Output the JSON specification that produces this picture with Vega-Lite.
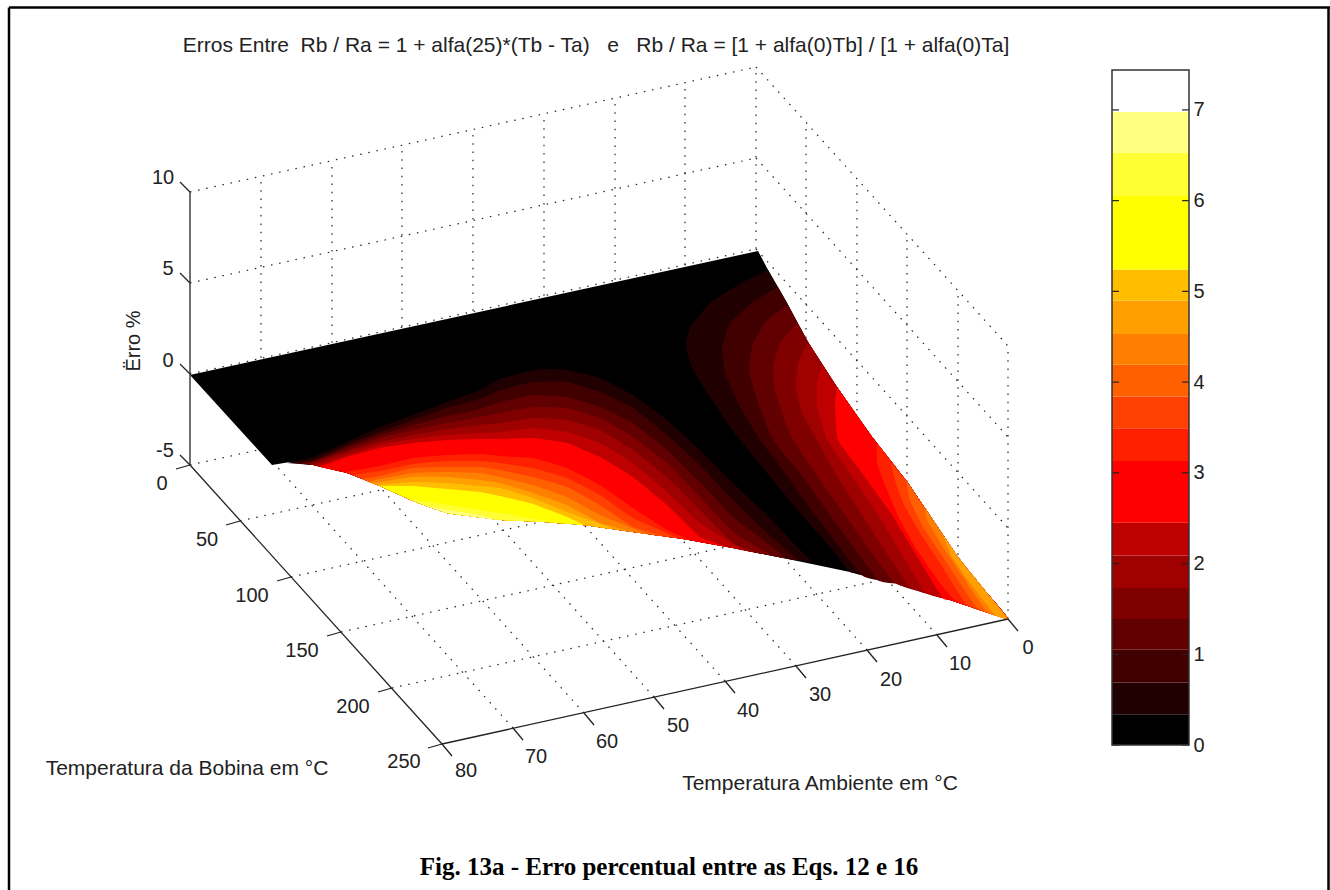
{"$schema":"https://vega.github.io/schema/vega-lite/v6.json","autosize":"none","padding":0,"width":1330,"height":890,"background":"white","config":{"view":{"stroke":null}},
"datasets":{
"colorbar":[{"b":0,"lo":0,"hi":0.34},{"b":1,"lo":0.34,"hi":0.69},{"b":2,"lo":0.69,"hi":1.05},{"b":3,"lo":1.05,"hi":1.39},{"b":4,"lo":1.39,"hi":1.73},{"b":5,"lo":1.73,"hi":2.09},{"b":6,"lo":2.09,"hi":2.45},{"b":7,"lo":2.45,"hi":3.13},{"b":8,"lo":3.13,"hi":3.49},{"b":9,"lo":3.49,"hi":3.84},{"b":10,"lo":3.84,"hi":4.19},{"b":11,"lo":4.19,"hi":4.53},{"b":12,"lo":4.53,"hi":4.9},{"b":13,"lo":4.9,"hi":5.24},{"b":14,"lo":5.24,"hi":6.05},{"b":15,"lo":6.05,"hi":6.53},{"b":16,"lo":6.53,"hi":6.98},{"b":17,"lo":6.98,"hi":7.44}],
"cbticks":[{"t":0},{"t":1},{"t":2},{"t":3},{"t":4},{"t":5},{"t":6},{"t":7}],
"grid":[
{"u":190,"v":192,"u2":756,"v2":67},{"u":190,"v":283,"u2":756,"v2":158},{"u":190,"v":374,"u2":756,"v2":249},{"u":190,"v":465,"u2":756,"v2":340},
{"u":756,"v":67,"u2":1008,"v2":346},{"u":756,"v":158,"u2":1008,"v2":437},{"u":756,"v":249,"u2":1008,"v2":528},{"u":756,"v":340,"u2":1008,"v2":619},
{"u":261,"v":449,"u2":261,"v2":176},{"u":332,"v":434,"u2":332,"v2":161},{"u":402,"v":418,"u2":402,"v2":145},{"u":473,"v":402,"u2":473,"v2":129},{"u":544,"v":387,"u2":544,"v2":114},{"u":615,"v":371,"u2":615,"v2":98},{"u":685,"v":356,"u2":685,"v2":83},{"u":756,"v":340,"u2":756,"v2":67},
{"u":806,"v":396,"u2":806,"v2":123},{"u":857,"v":452,"u2":857,"v2":179},{"u":907,"v":507,"u2":907,"v2":234},{"u":958,"v":563,"u2":958,"v2":290},{"u":1008,"v":619,"u2":1008,"v2":346},
{"u":240,"v":521,"u2":806,"v2":396},{"u":291,"v":577,"u2":857,"v2":452},{"u":341,"v":632,"u2":907,"v2":507},{"u":392,"v":688,"u2":958,"v2":563},
{"u":513,"v":728,"u2":261,"v2":449},{"u":584,"v":713,"u2":332,"v2":434},{"u":654,"v":697,"u2":402,"v2":418},{"u":725,"v":681,"u2":473,"v2":402},{"u":796,"v":666,"u2":544,"v2":387},{"u":867,"v":650,"u2":615,"v2":371},{"u":937,"v":635,"u2":685,"v2":356}],
"axes":[
{"u":190,"v":192,"u2":190,"v2":465},{"u":190,"v":465,"u2":442,"v2":744},{"u":442,"v":744,"u2":1008,"v2":619},
{"u":190,"v":192,"u2":180,"v2":182},{"u":190,"v":283,"u2":180,"v2":273},{"u":190,"v":374,"u2":180,"v2":364},{"u":190,"v":465,"u2":180,"v2":455},
{"u":190,"v":465,"u2":176,"v2":469},{"u":240,"v":521,"u2":226,"v2":525},{"u":291,"v":577,"u2":277,"v2":581},{"u":341,"v":632,"u2":327,"v2":636},{"u":392,"v":688,"u2":378,"v2":692},{"u":442,"v":744,"u2":428,"v2":748},
{"u":442,"v":744,"u2":452,"v2":756},{"u":513,"v":728,"u2":523,"v2":740},{"u":584,"v":713,"u2":594,"v2":725},{"u":654,"v":697,"u2":664,"v2":709},{"u":725,"v":681,"u2":735,"v2":693},{"u":796,"v":666,"u2":806,"v2":678},{"u":867,"v":650,"u2":877,"v2":662},{"u":937,"v":635,"u2":947,"v2":647},{"u":1008,"v":619,"u2":1018,"v2":631}],
"border":[{"u":9,"v":7.5,"u2":9,"v2":890},{"u":9,"v":7.5,"u2":1330,"v2":7.5},{"u":1328.5,"v":7.5,"u2":1328.5,"v2":890}],
"ticklabels":[
{"u":163,"v":178,"t":"10"},{"u":168,"v":269,"t":"5"},{"u":168,"v":361,"t":"0"},{"u":165,"v":451,"t":"-5"},
{"u":162,"v":484,"t":"0"},{"u":207,"v":540,"t":"50"},{"u":252,"v":596,"t":"100"},{"u":302,"v":651,"t":"150"},{"u":353,"v":707,"t":"200"},{"u":404,"v":762,"t":"250"},
{"u":466,"v":771,"t":"80"},{"u":536,"v":757,"t":"70"},{"u":607,"v":742,"t":"60"},{"u":678,"v":726,"t":"50"},{"u":748,"v":711,"t":"40"},{"u":820,"v":695,"t":"30"},{"u":891,"v":680,"t":"20"},{"u":960,"v":664,"t":"10"},{"u":1028,"v":648,"t":"0"}],
"labels":[
{"u":187,"v":769,"t":"Temperatura da Bobina em °C"},{"u":820,"v":784,"t":"Temperatura Ambiente em °C"},
{"u":596,"v":46,"t":"Erros Entre \u00a0Rb / Ra = 1 + alfa(25)*(Tb - Ta) \u00a0\u00a0e \u00a0\u00a0Rb / Ra = [1 + alfa(0)Tb] / [1 + alfa(0)Ta]"}],
"ylabel":[{"u":134,"v":341,"t":"Ërro %"}],
"caption":[{"u":669,"v":867,"t":"Fig. 13a - Erro percentual entre as Eqs. 12 e 16"}],
"surface":[
{"p":"base","b":0,"u":190,"v":375},{"p":"base","b":0,"u":758,"v":251},{"p":"base","b":0,"u":767,"v":268},{"p":"base","b":0,"u":787,"v":303},{"p":"base","b":0,"u":808,"v":342},{"p":"base","b":0,"u":837,"v":387},{"p":"base","b":0,"u":873,"v":438},{"p":"base","b":0,"u":908,"v":483},{"p":"base","b":0,"u":958,"v":557},{"p":"base","b":0,"u":987,"v":593},{"p":"base","b":0,"u":1008,"v":619},{"p":"base","b":0,"u":950,"v":600},{"p":"base","b":0,"u":900,"v":584},{"p":"base","b":0,"u":850,"v":572},{"p":"base","b":0,"u":783,"v":558},{"p":"base","b":0,"u":733,"v":548},{"p":"base","b":0,"u":683,"v":539},{"p":"base","b":0,"u":633,"v":532},{"p":"base","b":0,"u":583,"v":525},{"p":"base","b":0,"u":543,"v":522},{"p":"base","b":0,"u":500,"v":520},{"p":"base","b":0,"u":447,"v":513},{"p":"base","b":0,"u":413,"v":501},{"p":"base","b":0,"u":380,"v":486},{"p":"base","b":0,"u":347,"v":473},{"p":"base","b":0,"u":313,"v":465},{"p":"base","b":0,"u":290,"v":462},{"p":"base","b":0,"u":272,"v":465},

{"p":"L1","b":1,"u":287,"v":463},{"p":"L1","b":1,"u":313,"v":457},{"p":"L1","b":1,"u":347,"v":442},{"p":"L1","b":1,"u":380,"v":427},{"p":"L1","b":1,"u":413,"v":415},{"p":"L1","b":1,"u":447,"v":402},{"p":"L1","b":1,"u":480,"v":390},{"p":"L1","b":1,"u":500,"v":379},{"p":"L1","b":1,"u":533,"v":370},{"p":"L1","b":1,"u":550,"v":369},{"p":"L1","b":1,"u":567,"v":370},{"p":"L1","b":1,"u":600,"v":378},{"p":"L1","b":1,"u":633,"v":395},{"p":"L1","b":1,"u":667,"v":420},{"p":"L1","b":1,"u":700,"v":450},{"p":"L1","b":1,"u":733,"v":483},{"p":"L1","b":1,"u":767,"v":515},{"p":"L1","b":1,"u":800,"v":550},{"p":"L1","b":1,"u":812,"v":562},{"p":"L1","b":1,"u":783,"v":558},{"p":"L1","b":1,"u":733,"v":548},{"p":"L1","b":1,"u":683,"v":539},{"p":"L1","b":1,"u":633,"v":532},{"p":"L1","b":1,"u":583,"v":525},{"p":"L1","b":1,"u":543,"v":522},{"p":"L1","b":1,"u":500,"v":520},{"p":"L1","b":1,"u":447,"v":513},{"p":"L1","b":1,"u":413,"v":501},{"p":"L1","b":1,"u":380,"v":486},{"p":"L1","b":1,"u":347,"v":473},{"p":"L1","b":1,"u":313,"v":465},

{"p":"L2","b":2,"u":293,"v":463},{"p":"L2","b":2,"u":313,"v":460},{"p":"L2","b":2,"u":347,"v":445},{"p":"L2","b":2,"u":380,"v":432},{"p":"L2","b":2,"u":413,"v":420},{"p":"L2","b":2,"u":447,"v":408},{"p":"L2","b":2,"u":480,"v":399},{"p":"L2","b":2,"u":500,"v":390},{"p":"L2","b":2,"u":533,"v":382},{"p":"L2","b":2,"u":567,"v":382},{"p":"L2","b":2,"u":600,"v":392},{"p":"L2","b":2,"u":633,"v":408},{"p":"L2","b":2,"u":667,"v":435},{"p":"L2","b":2,"u":700,"v":465},{"p":"L2","b":2,"u":733,"v":500},{"p":"L2","b":2,"u":767,"v":533},{"p":"L2","b":2,"u":798,"v":560},{"p":"L2","b":2,"u":783,"v":558},{"p":"L2","b":2,"u":733,"v":548},{"p":"L2","b":2,"u":683,"v":539},{"p":"L2","b":2,"u":633,"v":532},{"p":"L2","b":2,"u":583,"v":525},{"p":"L2","b":2,"u":543,"v":522},{"p":"L2","b":2,"u":500,"v":520},{"p":"L2","b":2,"u":447,"v":513},{"p":"L2","b":2,"u":413,"v":501},{"p":"L2","b":2,"u":380,"v":486},{"p":"L2","b":2,"u":347,"v":473},{"p":"L2","b":2,"u":313,"v":465},

{"p":"L3","b":3,"u":300,"v":463},{"p":"L3","b":3,"u":313,"v":462},{"p":"L3","b":3,"u":347,"v":447},{"p":"L3","b":3,"u":380,"v":435},{"p":"L3","b":3,"u":413,"v":425},{"p":"L3","b":3,"u":447,"v":416},{"p":"L3","b":3,"u":480,"v":409},{"p":"L3","b":3,"u":500,"v":402},{"p":"L3","b":3,"u":533,"v":395},{"p":"L3","b":3,"u":567,"v":397},{"p":"L3","b":3,"u":600,"v":407},{"p":"L3","b":3,"u":633,"v":423},{"p":"L3","b":3,"u":667,"v":450},{"p":"L3","b":3,"u":700,"v":482},{"p":"L3","b":3,"u":733,"v":517},{"p":"L3","b":3,"u":767,"v":543},{"p":"L3","b":3,"u":785,"v":558},{"p":"L3","b":3,"u":733,"v":548},{"p":"L3","b":3,"u":683,"v":539},{"p":"L3","b":3,"u":633,"v":532},{"p":"L3","b":3,"u":583,"v":525},{"p":"L3","b":3,"u":543,"v":522},{"p":"L3","b":3,"u":500,"v":520},{"p":"L3","b":3,"u":447,"v":513},{"p":"L3","b":3,"u":413,"v":501},{"p":"L3","b":3,"u":380,"v":486},{"p":"L3","b":3,"u":347,"v":473},{"p":"L3","b":3,"u":313,"v":465},

{"p":"L4","b":4,"u":306,"v":464},{"p":"L4","b":4,"u":347,"v":450},{"p":"L4","b":4,"u":380,"v":438},{"p":"L4","b":4,"u":413,"v":430},{"p":"L4","b":4,"u":447,"v":423},{"p":"L4","b":4,"u":480,"v":417},{"p":"L4","b":4,"u":500,"v":413},{"p":"L4","b":4,"u":533,"v":407},{"p":"L4","b":4,"u":567,"v":408},{"p":"L4","b":4,"u":600,"v":418},{"p":"L4","b":4,"u":633,"v":437},{"p":"L4","b":4,"u":667,"v":463},{"p":"L4","b":4,"u":700,"v":497},{"p":"L4","b":4,"u":733,"v":532},{"p":"L4","b":4,"u":770,"v":555},{"p":"L4","b":4,"u":733,"v":548},{"p":"L4","b":4,"u":683,"v":539},{"p":"L4","b":4,"u":633,"v":532},{"p":"L4","b":4,"u":583,"v":525},{"p":"L4","b":4,"u":543,"v":522},{"p":"L4","b":4,"u":500,"v":520},{"p":"L4","b":4,"u":447,"v":513},{"p":"L4","b":4,"u":413,"v":501},{"p":"L4","b":4,"u":380,"v":486},{"p":"L4","b":4,"u":347,"v":473},{"p":"L4","b":4,"u":313,"v":465},

{"p":"L5","b":5,"u":311,"v":465},{"p":"L5","b":5,"u":347,"v":452},{"p":"L5","b":5,"u":380,"v":442},{"p":"L5","b":5,"u":413,"v":435},{"p":"L5","b":5,"u":447,"v":429},{"p":"L5","b":5,"u":480,"v":425},{"p":"L5","b":5,"u":500,"v":423},{"p":"L5","b":5,"u":533,"v":418},{"p":"L5","b":5,"u":567,"v":420},{"p":"L5","b":5,"u":600,"v":430},{"p":"L5","b":5,"u":633,"v":450},{"p":"L5","b":5,"u":667,"v":477},{"p":"L5","b":5,"u":700,"v":510},{"p":"L5","b":5,"u":733,"v":543},{"p":"L5","b":5,"u":757,"v":553},{"p":"L5","b":5,"u":733,"v":548},{"p":"L5","b":5,"u":683,"v":539},{"p":"L5","b":5,"u":633,"v":532},{"p":"L5","b":5,"u":583,"v":525},{"p":"L5","b":5,"u":543,"v":522},{"p":"L5","b":5,"u":500,"v":520},{"p":"L5","b":5,"u":447,"v":513},{"p":"L5","b":5,"u":413,"v":501},{"p":"L5","b":5,"u":380,"v":486},{"p":"L5","b":5,"u":347,"v":473},{"p":"L5","b":5,"u":313,"v":465},

{"p":"L6","b":6,"u":316,"v":466},{"p":"L6","b":6,"u":347,"v":455},{"p":"L6","b":6,"u":380,"v":445},{"p":"L6","b":6,"u":413,"v":439},{"p":"L6","b":6,"u":447,"v":435},{"p":"L6","b":6,"u":480,"v":433},{"p":"L6","b":6,"u":500,"v":432},{"p":"L6","b":6,"u":533,"v":428},{"p":"L6","b":6,"u":567,"v":432},{"p":"L6","b":6,"u":600,"v":443},{"p":"L6","b":6,"u":633,"v":463},{"p":"L6","b":6,"u":667,"v":492},{"p":"L6","b":6,"u":700,"v":523},{"p":"L6","b":6,"u":743,"v":550},{"p":"L6","b":6,"u":733,"v":548},{"p":"L6","b":6,"u":683,"v":539},{"p":"L6","b":6,"u":633,"v":532},{"p":"L6","b":6,"u":583,"v":525},{"p":"L6","b":6,"u":543,"v":522},{"p":"L6","b":6,"u":500,"v":520},{"p":"L6","b":6,"u":447,"v":513},{"p":"L6","b":6,"u":413,"v":501},{"p":"L6","b":6,"u":380,"v":486},{"p":"L6","b":6,"u":347,"v":473},

{"p":"L7","b":7,"u":320,"v":467},{"p":"L7","b":7,"u":347,"v":457},{"p":"L7","b":7,"u":380,"v":448},{"p":"L7","b":7,"u":413,"v":443},{"p":"L7","b":7,"u":447,"v":440},{"p":"L7","b":7,"u":480,"v":439},{"p":"L7","b":7,"u":500,"v":439},{"p":"L7","b":7,"u":533,"v":438},{"p":"L7","b":7,"u":567,"v":443},{"p":"L7","b":7,"u":600,"v":457},{"p":"L7","b":7,"u":633,"v":477},{"p":"L7","b":7,"u":667,"v":505},{"p":"L7","b":7,"u":700,"v":537},{"p":"L7","b":7,"u":727,"v":547},{"p":"L7","b":7,"u":683,"v":539},{"p":"L7","b":7,"u":633,"v":532},{"p":"L7","b":7,"u":583,"v":525},{"p":"L7","b":7,"u":543,"v":522},{"p":"L7","b":7,"u":500,"v":520},{"p":"L7","b":7,"u":447,"v":513},{"p":"L7","b":7,"u":413,"v":501},{"p":"L7","b":7,"u":380,"v":486},{"p":"L7","b":7,"u":347,"v":473},

{"p":"L8","b":8,"u":345,"v":472},{"p":"L8","b":8,"u":380,"v":466},{"p":"L8","b":8,"u":413,"v":458},{"p":"L8","b":8,"u":447,"v":455},{"p":"L8","b":8,"u":480,"v":454},{"p":"L8","b":8,"u":500,"v":456},{"p":"L8","b":8,"u":533,"v":458},{"p":"L8","b":8,"u":567,"v":468},{"p":"L8","b":8,"u":600,"v":485},{"p":"L8","b":8,"u":633,"v":508},{"p":"L8","b":8,"u":667,"v":530},{"p":"L8","b":8,"u":690,"v":540},{"p":"L8","b":8,"u":683,"v":539},{"p":"L8","b":8,"u":633,"v":532},{"p":"L8","b":8,"u":583,"v":525},{"p":"L8","b":8,"u":543,"v":522},{"p":"L8","b":8,"u":500,"v":520},{"p":"L8","b":8,"u":447,"v":513},{"p":"L8","b":8,"u":413,"v":501},{"p":"L8","b":8,"u":380,"v":486},

{"p":"L9","b":9,"u":353,"v":475},{"p":"L9","b":9,"u":380,"v":471},{"p":"L9","b":9,"u":413,"v":464},{"p":"L9","b":9,"u":447,"v":461},{"p":"L9","b":9,"u":480,"v":461},{"p":"L9","b":9,"u":500,"v":463},{"p":"L9","b":9,"u":533,"v":468},{"p":"L9","b":9,"u":567,"v":478},{"p":"L9","b":9,"u":600,"v":495},{"p":"L9","b":9,"u":633,"v":518},{"p":"L9","b":9,"u":677,"v":538},{"p":"L9","b":9,"u":633,"v":532},{"p":"L9","b":9,"u":583,"v":525},{"p":"L9","b":9,"u":543,"v":522},{"p":"L9","b":9,"u":500,"v":520},{"p":"L9","b":9,"u":447,"v":513},{"p":"L9","b":9,"u":413,"v":501},{"p":"L9","b":9,"u":380,"v":486},

{"p":"L10","b":10,"u":362,"v":479},{"p":"L10","b":10,"u":380,"v":476},{"p":"L10","b":10,"u":413,"v":468},{"p":"L10","b":10,"u":447,"v":467},{"p":"L10","b":10,"u":480,"v":467},{"p":"L10","b":10,"u":500,"v":470},{"p":"L10","b":10,"u":533,"v":477},{"p":"L10","b":10,"u":567,"v":487},{"p":"L10","b":10,"u":600,"v":505},{"p":"L10","b":10,"u":633,"v":527},{"p":"L10","b":10,"u":663,"v":536},{"p":"L10","b":10,"u":633,"v":532},{"p":"L10","b":10,"u":583,"v":525},{"p":"L10","b":10,"u":543,"v":522},{"p":"L10","b":10,"u":500,"v":520},{"p":"L10","b":10,"u":447,"v":513},{"p":"L10","b":10,"u":413,"v":501},{"p":"L10","b":10,"u":380,"v":486},

{"p":"L11","b":11,"u":368,"v":482},{"p":"L11","b":11,"u":380,"v":479},{"p":"L11","b":11,"u":413,"v":473},{"p":"L11","b":11,"u":447,"v":472},{"p":"L11","b":11,"u":480,"v":473},{"p":"L11","b":11,"u":500,"v":477},{"p":"L11","b":11,"u":533,"v":485},{"p":"L11","b":11,"u":567,"v":497},{"p":"L11","b":11,"u":600,"v":515},{"p":"L11","b":11,"u":647,"v":534},{"p":"L11","b":11,"u":633,"v":532},{"p":"L11","b":11,"u":583,"v":525},{"p":"L11","b":11,"u":543,"v":522},{"p":"L11","b":11,"u":500,"v":520},{"p":"L11","b":11,"u":447,"v":513},{"p":"L11","b":11,"u":413,"v":501},{"p":"L11","b":11,"u":380,"v":486},

{"p":"L12","b":12,"u":373,"v":483},{"p":"L12","b":12,"u":413,"v":477},{"p":"L12","b":12,"u":447,"v":477},{"p":"L12","b":12,"u":480,"v":480},{"p":"L12","b":12,"u":500,"v":483},{"p":"L12","b":12,"u":533,"v":493},{"p":"L12","b":12,"u":567,"v":505},{"p":"L12","b":12,"u":600,"v":523},{"p":"L12","b":12,"u":633,"v":532},{"p":"L12","b":12,"u":583,"v":525},{"p":"L12","b":12,"u":543,"v":522},{"p":"L12","b":12,"u":500,"v":520},{"p":"L12","b":12,"u":447,"v":513},{"p":"L12","b":12,"u":413,"v":501},{"p":"L12","b":12,"u":380,"v":486},

{"p":"L13","b":13,"u":377,"v":485},{"p":"L13","b":13,"u":413,"v":482},{"p":"L13","b":13,"u":447,"v":483},{"p":"L13","b":13,"u":480,"v":486},{"p":"L13","b":13,"u":500,"v":488},{"p":"L13","b":13,"u":533,"v":498},{"p":"L13","b":13,"u":567,"v":512},{"p":"L13","b":13,"u":613,"v":529},{"p":"L13","b":13,"u":583,"v":525},{"p":"L13","b":13,"u":543,"v":522},{"p":"L13","b":13,"u":500,"v":520},{"p":"L13","b":13,"u":447,"v":513},{"p":"L13","b":13,"u":413,"v":501},{"p":"L13","b":13,"u":380,"v":486},

{"p":"L14","b":14,"u":380,"v":486},{"p":"L14","b":14,"u":413,"v":486},{"p":"L14","b":14,"u":447,"v":489},{"p":"L14","b":14,"u":480,"v":492},{"p":"L14","b":14,"u":500,"v":496},{"p":"L14","b":14,"u":533,"v":504},{"p":"L14","b":14,"u":567,"v":517},{"p":"L14","b":14,"u":583,"v":525},{"p":"L14","b":14,"u":543,"v":522},{"p":"L14","b":14,"u":500,"v":520},{"p":"L14","b":14,"u":447,"v":513},{"p":"L14","b":14,"u":413,"v":501},

{"p":"L15","b":15,"u":410,"v":499},{"p":"L15","b":15,"u":447,"v":505},{"p":"L15","b":15,"u":480,"v":510},{"p":"L15","b":15,"u":513,"v":515},{"p":"L15","b":15,"u":547,"v":522},{"p":"L15","b":15,"u":500,"v":520},{"p":"L15","b":15,"u":447,"v":513},{"p":"L15","b":15,"u":413,"v":501},

{"p":"L16","b":16,"u":423,"v":505},{"p":"L16","b":16,"u":447,"v":510},{"p":"L16","b":16,"u":480,"v":515},{"p":"L16","b":16,"u":497,"v":520},{"p":"L16","b":16,"u":447,"v":513},

{"p":"M1","b":1,"u":768,"v":270},{"p":"M1","b":1,"u":743,"v":282},{"p":"M1","b":1,"u":710,"v":303},{"p":"M1","b":1,"u":690,"v":327},{"p":"M1","b":1,"u":686,"v":347},{"p":"M1","b":1,"u":693,"v":370},{"p":"M1","b":1,"u":710,"v":397},{"p":"M1","b":1,"u":730,"v":427},{"p":"M1","b":1,"u":740,"v":440},{"p":"M1","b":1,"u":767,"v":473},{"p":"M1","b":1,"u":800,"v":513},{"p":"M1","b":1,"u":833,"v":550},{"p":"M1","b":1,"u":850,"v":572},{"p":"M1","b":1,"u":900,"v":584},{"p":"M1","b":1,"u":950,"v":600},{"p":"M1","b":1,"u":1008,"v":619},{"p":"M1","b":1,"u":987,"v":593},{"p":"M1","b":1,"u":958,"v":557},{"p":"M1","b":1,"u":908,"v":483},{"p":"M1","b":1,"u":873,"v":438},{"p":"M1","b":1,"u":837,"v":387},{"p":"M1","b":1,"u":808,"v":342},{"p":"M1","b":1,"u":787,"v":303},

{"p":"M2","b":2,"u":778,"v":287},{"p":"M2","b":2,"u":753,"v":302},{"p":"M2","b":2,"u":730,"v":323},{"p":"M2","b":2,"u":722,"v":347},{"p":"M2","b":2,"u":725,"v":373},{"p":"M2","b":2,"u":740,"v":407},{"p":"M2","b":2,"u":760,"v":440},{"p":"M2","b":2,"u":785,"v":473},{"p":"M2","b":2,"u":815,"v":515},{"p":"M2","b":2,"u":863,"v":576},{"p":"M2","b":2,"u":900,"v":584},{"p":"M2","b":2,"u":950,"v":600},{"p":"M2","b":2,"u":1008,"v":619},{"p":"M2","b":2,"u":987,"v":593},{"p":"M2","b":2,"u":958,"v":557},{"p":"M2","b":2,"u":908,"v":483},{"p":"M2","b":2,"u":873,"v":438},{"p":"M2","b":2,"u":837,"v":387},{"p":"M2","b":2,"u":808,"v":342},{"p":"M2","b":2,"u":787,"v":303},

{"p":"M3","b":3,"u":788,"v":305},{"p":"M3","b":3,"u":767,"v":320},{"p":"M3","b":3,"u":753,"v":343},{"p":"M3","b":3,"u":749,"v":370},{"p":"M3","b":3,"u":757,"v":400},{"p":"M3","b":3,"u":773,"v":440},{"p":"M3","b":3,"u":800,"v":473},{"p":"M3","b":3,"u":830,"v":515},{"p":"M3","b":3,"u":878,"v":580},{"p":"M3","b":3,"u":900,"v":584},{"p":"M3","b":3,"u":950,"v":600},{"p":"M3","b":3,"u":1008,"v":619},{"p":"M3","b":3,"u":987,"v":593},{"p":"M3","b":3,"u":958,"v":557},{"p":"M3","b":3,"u":908,"v":483},{"p":"M3","b":3,"u":873,"v":438},{"p":"M3","b":3,"u":837,"v":387},{"p":"M3","b":3,"u":808,"v":342},

{"p":"M4","b":4,"u":797,"v":323},{"p":"M4","b":4,"u":780,"v":343},{"p":"M4","b":4,"u":773,"v":367},{"p":"M4","b":4,"u":775,"v":390},{"p":"M4","b":4,"u":787,"v":427},{"p":"M4","b":4,"u":793,"v":440},{"p":"M4","b":4,"u":815,"v":473},{"p":"M4","b":4,"u":845,"v":515},{"p":"M4","b":4,"u":895,"v":583},{"p":"M4","b":4,"u":950,"v":600},{"p":"M4","b":4,"u":1008,"v":619},{"p":"M4","b":4,"u":987,"v":593},{"p":"M4","b":4,"u":958,"v":557},{"p":"M4","b":4,"u":908,"v":483},{"p":"M4","b":4,"u":873,"v":438},{"p":"M4","b":4,"u":837,"v":387},{"p":"M4","b":4,"u":808,"v":342},

{"p":"M5","b":5,"u":808,"v":342},{"p":"M5","b":5,"u":798,"v":363},{"p":"M5","b":5,"u":796,"v":387},{"p":"M5","b":5,"u":802,"v":413},{"p":"M5","b":5,"u":817,"v":440},{"p":"M5","b":5,"u":835,"v":473},{"p":"M5","b":5,"u":862,"v":515},{"p":"M5","b":5,"u":910,"v":587},{"p":"M5","b":5,"u":950,"v":600},{"p":"M5","b":5,"u":1008,"v":619},{"p":"M5","b":5,"u":987,"v":593},{"p":"M5","b":5,"u":958,"v":557},{"p":"M5","b":5,"u":908,"v":483},{"p":"M5","b":5,"u":873,"v":438},{"p":"M5","b":5,"u":837,"v":387},

{"p":"M6","b":6,"u":822,"v":365},{"p":"M6","b":6,"u":817,"v":383},{"p":"M6","b":6,"u":817,"v":407},{"p":"M6","b":6,"u":827,"v":440},{"p":"M6","b":6,"u":850,"v":473},{"p":"M6","b":6,"u":878,"v":515},{"p":"M6","b":6,"u":925,"v":592},{"p":"M6","b":6,"u":950,"v":600},{"p":"M6","b":6,"u":1008,"v":619},{"p":"M6","b":6,"u":987,"v":593},{"p":"M6","b":6,"u":958,"v":557},{"p":"M6","b":6,"u":908,"v":483},{"p":"M6","b":6,"u":873,"v":438},{"p":"M6","b":6,"u":837,"v":387},

{"p":"M7","b":7,"u":837,"v":387},{"p":"M7","b":7,"u":835,"v":407},{"p":"M7","b":7,"u":838,"v":440},{"p":"M7","b":7,"u":862,"v":473},{"p":"M7","b":7,"u":892,"v":515},{"p":"M7","b":7,"u":942,"v":597},{"p":"M7","b":7,"u":950,"v":600},{"p":"M7","b":7,"u":1008,"v":619},{"p":"M7","b":7,"u":987,"v":593},{"p":"M7","b":7,"u":958,"v":557},{"p":"M7","b":7,"u":908,"v":483},{"p":"M7","b":7,"u":873,"v":438},

{"p":"M8","b":8,"u":877,"v":443},{"p":"M8","b":8,"u":877,"v":463},{"p":"M8","b":8,"u":887,"v":490},{"p":"M8","b":8,"u":900,"v":520},{"p":"M8","b":8,"u":917,"v":550},{"p":"M8","b":8,"u":940,"v":583},{"p":"M8","b":8,"u":957,"v":602},{"p":"M8","b":8,"u":1008,"v":619},{"p":"M8","b":8,"u":987,"v":593},{"p":"M8","b":8,"u":958,"v":557},{"p":"M8","b":8,"u":908,"v":483},

{"p":"M9","b":9,"u":891,"v":463},{"p":"M9","b":9,"u":895,"v":480},{"p":"M9","b":9,"u":903,"v":503},{"p":"M9","b":9,"u":920,"v":533},{"p":"M9","b":9,"u":940,"v":563},{"p":"M9","b":9,"u":967,"v":605},{"p":"M9","b":9,"u":1008,"v":619},{"p":"M9","b":9,"u":987,"v":593},{"p":"M9","b":9,"u":958,"v":557},{"p":"M9","b":9,"u":908,"v":483},

{"p":"M10","b":10,"u":906,"v":480},{"p":"M10","b":10,"u":910,"v":500},{"p":"M10","b":10,"u":923,"v":527},{"p":"M10","b":10,"u":943,"v":557},{"p":"M10","b":10,"u":977,"v":608},{"p":"M10","b":10,"u":1008,"v":619},{"p":"M10","b":10,"u":987,"v":593},{"p":"M10","b":10,"u":958,"v":557},

{"p":"M11","b":11,"u":925,"v":508},{"p":"M11","b":11,"u":927,"v":520},{"p":"M11","b":11,"u":943,"v":547},{"p":"M11","b":11,"u":963,"v":577},{"p":"M11","b":11,"u":987,"v":612},{"p":"M11","b":11,"u":1008,"v":619},{"p":"M11","b":11,"u":987,"v":593},{"p":"M11","b":11,"u":958,"v":557},

{"p":"M12","b":12,"u":943,"v":535},{"p":"M12","b":12,"u":952,"v":557},{"p":"M12","b":12,"u":970,"v":583},{"p":"M12","b":12,"u":995,"v":615},{"p":"M12","b":12,"u":1008,"v":619},{"p":"M12","b":12,"u":987,"v":593},{"p":"M12","b":12,"u":958,"v":557}
]},
"layer":[
{"data":{"name":"border"},"mark":{"type":"rule","color":"#000","strokeWidth":2.5},"encoding":{"x":{"field":"u","type":"quantitative","scale":{"domain":[0,1330]},"axis":null},"y":{"field":"v","type":"quantitative","scale":{"domain":[890,0]},"axis":null},"x2":{"field":"u2"},"y2":{"field":"v2"}}},
{"data":{"name":"grid"},"mark":{"type":"rule","color":"#222","strokeWidth":1.2,"strokeDash":[1.5,6.8]},"encoding":{"x":{"field":"u","type":"quantitative","scale":{"domain":[0,1330]},"axis":null},"y":{"field":"v","type":"quantitative","scale":{"domain":[890,0]},"axis":null},"x2":{"field":"u2"},"y2":{"field":"v2"}}},
{"data":{"name":"surface"},"transform":[{"filter":"datum.p === 'base'"},{"window":[{"op":"row_number","as":"i"}]}],"mark":{"type":"line","filled":true,"interpolate":"linear"},"encoding":{"x":{"field":"u","type":"quantitative","scale":{"domain":[0,1330]},"axis":null},"y":{"field":"v","type":"quantitative","scale":{"domain":[890,0]},"axis":null},"order":{"field":"i","type":"quantitative"},"color":{"value":"#000000"}}},
{"data":{"name":"surface"},"transform":[{"filter":"datum.p !== 'base'"},{"window":[{"op":"row_number","as":"i"}]}],"mark":{"type":"line","filled":true,"interpolate":"cardinal","tension":0.7},"encoding":{"x":{"field":"u","type":"quantitative","scale":{"domain":[0,1330]},"axis":null},"y":{"field":"v","type":"quantitative","scale":{"domain":[890,0]},"axis":null},"detail":{"field":"p"},"order":{"field":"i","type":"quantitative"},"color":{"field":"b","type":"ordinal","legend":null,"scale":{"domain":[0,1,2,3,4,5,6,7,8,9,10,11,12,13,14,15,16,17],"range":["#000000","#200000","#400000","#600000","#800000","#9f0000","#bf0000","#ff0000","#ff2000","#ff4000","#ff6000","#ff8000","#ff9f00","#ffbf00","#ffff00","#ffff33","#ffff80","#ffffff"]}}}},
{"data":{"name":"axes"},"mark":{"type":"rule","color":"#222","strokeWidth":1.3},"encoding":{"x":{"field":"u","type":"quantitative","scale":{"domain":[0,1330]},"axis":null},"y":{"field":"v","type":"quantitative","scale":{"domain":[890,0]},"axis":null},"x2":{"field":"u2"},"y2":{"field":"v2"}}},
{"data":{"name":"ticklabels"},"mark":{"type":"text","font":"Liberation Sans","fontSize":20,"color":"#222","align":"center","baseline":"middle"},"encoding":{"x":{"field":"u","type":"quantitative","scale":{"domain":[0,1330]},"axis":null},"y":{"field":"v","type":"quantitative","scale":{"domain":[890,0]},"axis":null},"text":{"field":"t"}}},
{"data":{"name":"labels"},"mark":{"type":"text","font":"Liberation Sans","fontSize":21,"color":"#222","align":"center","baseline":"middle"},"encoding":{"x":{"field":"u","type":"quantitative","scale":{"domain":[0,1330]},"axis":null},"y":{"field":"v","type":"quantitative","scale":{"domain":[890,0]},"axis":null},"text":{"field":"t"}}},
{"data":{"name":"ylabel"},"mark":{"type":"text","font":"Liberation Sans","fontSize":20,"color":"#222","align":"center","baseline":"middle","angle":270},"encoding":{"x":{"field":"u","type":"quantitative","scale":{"domain":[0,1330]},"axis":null},"y":{"field":"v","type":"quantitative","scale":{"domain":[890,0]},"axis":null},"text":{"field":"t"}}},
{"data":{"name":"caption"},"mark":{"type":"text","font":"Liberation Serif","fontSize":25,"fontWeight":"bold","color":"#000","align":"center","baseline":"middle"},"encoding":{"x":{"field":"u","type":"quantitative","scale":{"domain":[0,1330]},"axis":null},"y":{"field":"v","type":"quantitative","scale":{"domain":[890,0]},"axis":null},"text":{"field":"t"}}},
{"data":{"name":"colorbar"},"mark":{"type":"rect"},"encoding":{"x":{"datum":0,"type":"quantitative","scale":{"domain":[0,1],"range":[1112,1189]},"axis":null},"x2":{"datum":1},"y":{"field":"lo","type":"quantitative","scale":{"domain":[0,7.44],"range":[745,70]},"axis":{"orient":"right","offset":-141,"domain":false,"ticks":false,"grid":false,"title":null,"values":[0,1,2,3,4,5,6,7],"labelFont":"Liberation Sans","labelFontSize":20,"labelColor":"#222","labelPadding":4,"format":"d"}},"y2":{"field":"hi"},"color":{"field":"b","type":"ordinal","legend":null,"scale":{"domain":[0,1,2,3,4,5,6,7,8,9,10,11,12,13,14,15,16,17],"range":["#000000","#200000","#400000","#600000","#800000","#9f0000","#bf0000","#ff0000","#ff2000","#ff4000","#ff6000","#ff8000","#ff9f00","#ffbf00","#ffff00","#ffff33","#ffff80","#ffffff"]}}}},
{"data":{"name":"cbticks"},"mark":{"type":"rule","color":"#222","strokeWidth":1.2},"encoding":{"x":{"datum":0,"type":"quantitative","scale":{"domain":[0,1],"range":[1112,1189]},"axis":null},"x2":{"datum":0.09},"y":{"field":"t","type":"quantitative","scale":{"domain":[0,7.44],"range":[745,70]},"axis":null}}},
{"data":{"name":"cbticks"},"mark":{"type":"rule","color":"#222","strokeWidth":1.2},"encoding":{"x":{"datum":0.91,"type":"quantitative","scale":{"domain":[0,1],"range":[1112,1189]},"axis":null},"x2":{"datum":1},"y":{"field":"t","type":"quantitative","scale":{"domain":[0,7.44],"range":[745,70]},"axis":null}}},
{"data":{"values":[{"lo":0,"hi":7.44}]},"mark":{"type":"rect","fillOpacity":0,"stroke":"#333","strokeWidth":1.5},"encoding":{"x":{"datum":0,"type":"quantitative","scale":{"domain":[0,1],"range":[1112,1189]},"axis":null},"x2":{"datum":1},"y":{"field":"lo","type":"quantitative","scale":{"domain":[0,7.44],"range":[745,70]},"axis":null},"y2":{"field":"hi"}}}
],
"resolve":{"scale":{"x":"independent","y":"independent","color":"independent"}}}
